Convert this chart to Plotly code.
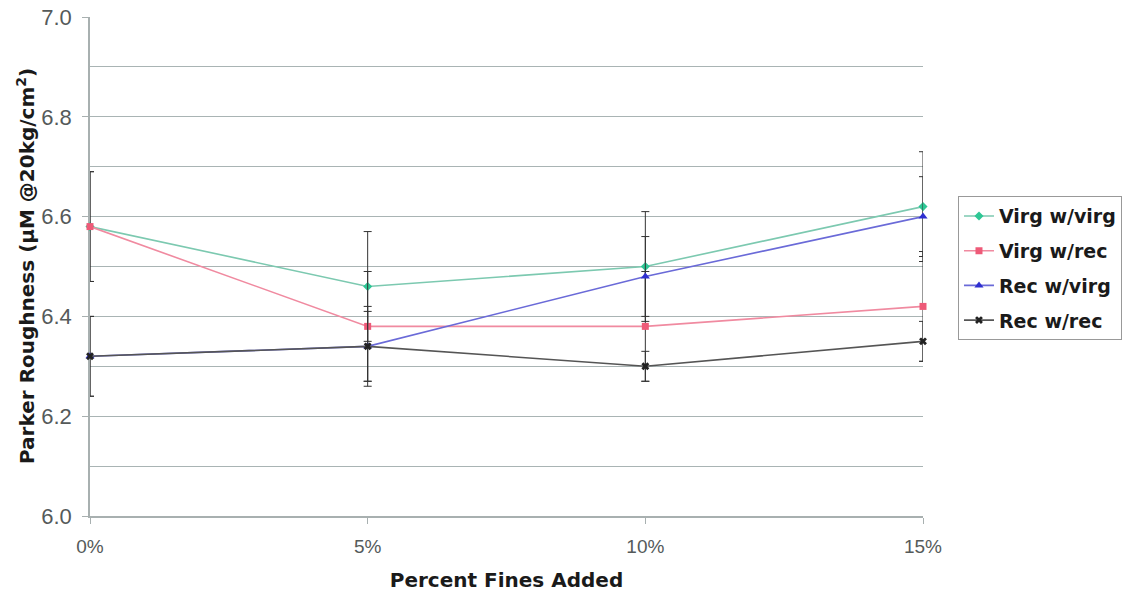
import plotly.graph_objects as go

x_vals = [0, 5, 10, 15]
x_labels = ["0%", "5%", "10%", "15%"]

virg_virg = [6.58, 6.46, 6.50, 6.62]
virg_virg_err = [0.11, 0.11, 0.11, 0.11]
virg_rec = [6.58, 6.38, 6.38, 6.42]
virg_rec_err = [0.11, 0.11, 0.11, 0.11]
rec_virg = [6.32, 6.34, 6.48, 6.60]
rec_virg_err = [0.08, 0.08, 0.08, 0.08]
rec_rec = [6.32, 6.34, 6.30, 6.35]
rec_rec_err = [0.08, 0.07, 0.03, 0.04]

series = [
    ("Virg w/virg", virg_virg, virg_virg_err, "#2ec795", "#7cc9b0", "diamond", 7),
    ("Virg w/rec", virg_rec, virg_rec_err, "#ee5a78", "#f08aa0", "square", 7),
    ("Rec w/virg", rec_virg, rec_virg_err, "#2f2fd0", "#6a6ad8", "triangle-up", 8),
    ("Rec w/rec", rec_rec, rec_rec_err, "#222222", "#555555", "x", 7),
]

fig = go.Figure()
for i, (name, y, err, mcol, lcol, sym, size) in enumerate(series):
    fig.add_trace(go.Scatter(
        x=x_vals, y=y, name=name, mode="lines+markers",
        legendgroup=f"g{i}", cliponaxis=False,
        line=dict(color=lcol, width=1.6),
        marker=dict(color=mcol, symbol=sym, size=size),
        error_y=dict(type="data", array=err, visible=True, color="#333333",
                     thickness=1, width=4),
    ))

tick_font = "Liberation Sans, Arial, sans-serif"
bold_font = "DejaVu Sans, sans-serif"
fig.update_layout(
    width=1130, height=597,
    margin=dict(l=90, r=207, t=17, b=81, autoexpand=False),
    paper_bgcolor="white", plot_bgcolor="white",
    font=dict(family=tick_font, size=18, color="#555a5a"),
    showlegend=True,
    legend=dict(
        x=1.042, y=0.641, xanchor="left", yanchor="top",
        bordercolor="#999999", borderwidth=1, bgcolor="white",
        font=dict(family=bold_font, size=19, color="#1a1a1a", weight="bold"),
        itemwidth=30, tracegroupgap=7,
    ),
    xaxis=dict(
        range=[0, 15], tickvals=x_vals, ticktext=x_labels,
        showgrid=False, zeroline=False, automargin=False, layer="below traces",
        showline=True, linecolor="#a8b0b0", linewidth=1.5,
        ticks="outside", ticklen=6, tickcolor="#a8b0b0",
        ticklabelstandoff=6,
        tickfont=dict(family=tick_font, size=19, color="#555a5a"),
        title=dict(text="<b>Percent Fines Added</b>",
                   font=dict(family=bold_font, size=20, color="#1a1a1a"), standoff=17),
    ),
    yaxis=dict(
        range=[6.0, 7.0], tickvals=[6.0, 6.2, 6.4, 6.6, 6.8, 7.0],
        ticktext=["6.0", "6.2", "6.4", "6.6", "6.8", "7.0"],
        showgrid=True, gridcolor="#a9b4b4", gridwidth=1,
        zeroline=False, automargin=False, layer="below traces",
        showline=True, linecolor="#a8b0b0", linewidth=1.5,
        ticks="outside", ticklen=6, tickcolor="#a8b0b0",
        ticklabelstandoff=6,
        tickfont=dict(family=tick_font, size=22, color="#555a5a"),
        minor=dict(dtick=0.1, tick0=6.0, showgrid=True, gridcolor="#a9b4b4", gridwidth=1),
    ),
    annotations=[dict(
        text="<b>Parker Roughness (μM @20kg/cm<sup>2</sup>)</b>",
        textangle=-90, xref="paper", yref="paper",
        x=(26 - 90) / 833, y=(516 - 266) / 499,
        xanchor="center", yanchor="middle", showarrow=False,
        font=dict(family=bold_font, size=20, color="#1a1a1a"),
    )],
)

fig.write_html("out.html")
